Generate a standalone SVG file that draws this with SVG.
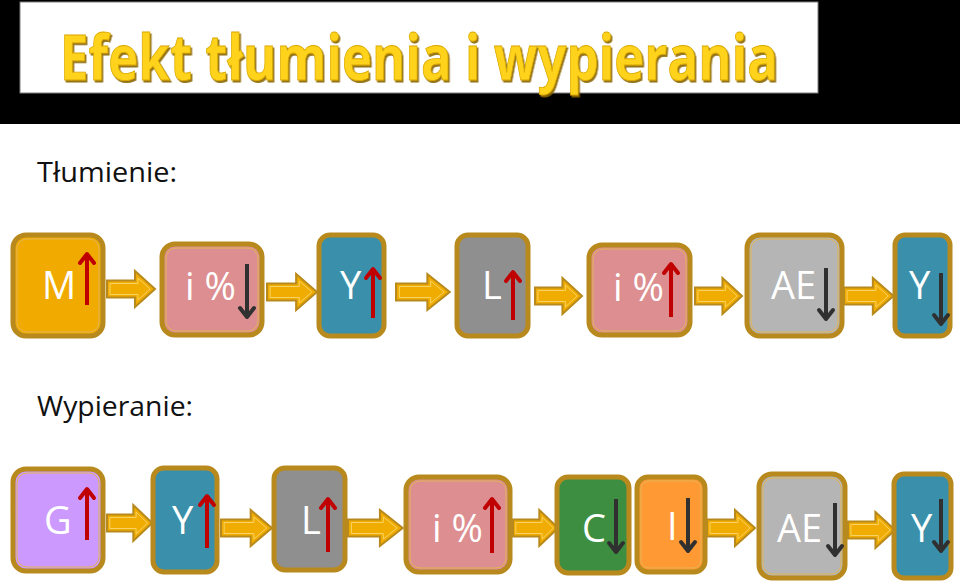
<svg xmlns="http://www.w3.org/2000/svg" xmlns:xlink="http://www.w3.org/1999/xlink" width="960" height="584" viewBox="0 0 960 584">
<style>
.box{stroke:#B8891C;stroke-width:5}
.inner{fill:none;stroke:#E2B555;stroke-width:1}
.lbl{font-family:"Open Sans","Noto Sans",sans-serif;font-size:38px;fill:#FFFFFF}
.sec{font-family:"Open Sans","Noto Sans",sans-serif;font-size:27px;fill:#111111}
.up{stroke:#C00000;stroke-width:4;fill:none;marker-end:url(#hr)}
.dn{stroke:#303030;stroke-width:4;fill:none;marker-end:url(#hb)}
.blk{fill:#F0AC00;stroke:#B8891C;stroke-width:2;vector-effect:non-scaling-stroke}
.blki{fill:none;stroke:#F8D262;stroke-width:1;vector-effect:non-scaling-stroke}
</style>
<defs>
<filter id="tsh" x="-5%" y="-20%" width="110%" height="150%">
<feDropShadow dx="1.5" dy="2" stdDeviation="0.6" flood-color="#8A6500" flood-opacity="0.9"/>
</filter>
<marker id="hr" markerUnits="userSpaceOnUse" markerWidth="24" markerHeight="24" viewBox="-12 -12 24 24" refX="0" refY="0" orient="auto">
<path d="M-9,-7 L0,0 L-9,7" fill="none" stroke="#C00000" stroke-width="4" stroke-linecap="round" stroke-linejoin="round"/>
</marker>
<marker id="hb" markerUnits="userSpaceOnUse" markerWidth="24" markerHeight="24" viewBox="-12 -12 24 24" refX="0" refY="0" orient="auto">
<path d="M-9,-7 L0,0 L-9,7" fill="none" stroke="#303030" stroke-width="4" stroke-linecap="round" stroke-linejoin="round"/>
</marker>
<g id="blockarrow">
<path class="blk" d="M0,-8.5 L28,-8.5 L28,-18 L48,0 L28,18 L28,8.5 L0,8.5 Z"/>
<path class="blki" d="M3,-5.5 L31,-5.5 L31,-11 L43,0 L31,11 L31,5.5 L3,5.5 Z"/>
</g>
</defs>

<rect x="0" y="0" width="960" height="124" fill="#000000"/>
<rect x="20" y="2" width="798" height="91" fill="#FFFFFF" stroke="#7F7F7F" stroke-width="1"/>
<text x="60" y="80" font-family="'Open Sans','Noto Sans',sans-serif" font-weight="bold" font-size="62" fill="#FFD21A" stroke="#D9A800" stroke-width="0.8" textLength="718" lengthAdjust="spacingAndGlyphs" filter="url(#tsh)">Efekt tłumienia i wypierania</text>

<text class="sec" x="37" y="182" textLength="140" lengthAdjust="spacingAndGlyphs">Tłumienie:</text>
<text class="sec" x="37" y="416" textLength="156" lengthAdjust="spacingAndGlyphs">Wypieranie:</text>

<g id="connectors">
<use xlink:href="#blockarrow" transform="translate(107,289)"/>
<use xlink:href="#blockarrow" transform="translate(267,292) scale(1.04,1)"/>
<use xlink:href="#blockarrow" transform="translate(396,292) scale(1.12,1)"/>
<use xlink:href="#blockarrow" transform="translate(535,296) scale(0.98,1)"/>
<use xlink:href="#blockarrow" transform="translate(695,296) scale(0.98,1)"/>
<use xlink:href="#blockarrow" transform="translate(844,296) scale(1.03,1)"/>
<use xlink:href="#blockarrow" transform="translate(107,523) scale(0.94,1)"/>
<use xlink:href="#blockarrow" transform="translate(221,528) scale(1.06,1)"/>
<use xlink:href="#blockarrow" transform="translate(348,528) scale(1.14,1)"/>
<use xlink:href="#blockarrow" transform="translate(513,528) scale(0.94,1)"/>
<use xlink:href="#blockarrow" transform="translate(707,528)"/>
<use xlink:href="#blockarrow" transform="translate(848,530) scale(0.98,1)"/>
</g>

<g id="n-M">
<rect class="box" x="13" y="235" width="90" height="101" rx="13" fill="#F0AA00"/>
<rect class="inner" x="17" y="239" width="82" height="93" rx="10"/>
<text class="lbl" x="42" y="299">M</text>
<line class="up" x1="87" y1="305" x2="87" y2="254"/>
</g>
<g id="n-i1">
<rect class="box" x="162" y="244" width="100" height="91" rx="13" fill="#DC8E90"/>
<rect class="inner" x="166" y="248" width="92" height="83" rx="10"/>
<text class="lbl" x="185" y="300">i %</text>
<line class="dn" x1="247" y1="264" x2="247" y2="317"/>
</g>
<g id="n-Y1">
<rect class="box" x="319" y="235" width="65" height="101" rx="11" fill="#3A90AA"/>
<text class="lbl" x="340" y="299">Y</text>
<line class="up" x1="373" y1="318" x2="373" y2="269"/>
</g>
<g id="n-L1">
<rect class="box" x="457" y="235" width="71" height="101" rx="11" fill="#8F8F8F"/>
<text class="lbl" x="482" y="299">L</text>
<line class="up" x1="513" y1="320" x2="513" y2="272"/>
</g>
<g id="n-i2">
<rect class="box" x="589" y="245" width="101" height="90" rx="13" fill="#DC8E90"/>
<rect class="inner" x="593" y="249" width="93" height="82" rx="10"/>
<text class="lbl" x="613" y="301">i %</text>
<line class="up" x1="671" y1="317" x2="671" y2="264"/>
</g>
<g id="n-AE1">
<rect class="box" x="747" y="235" width="95" height="101" rx="13" fill="#B5B5B5"/>
<rect class="inner" x="751" y="239" width="87" height="93" rx="10"/>
<text class="lbl" x="771" y="299">AE</text>
<line class="dn" x1="826" y1="268" x2="826" y2="319"/>
</g>
<g id="n-Y2">
<rect class="box" x="895" y="235" width="55" height="101" rx="10" fill="#3A90AA"/>
<text class="lbl" x="909" y="299">Y</text>
<line class="dn" x1="941" y1="273" x2="941" y2="324"/>
</g>

<g id="n-G">
<rect class="box" x="13" y="469" width="90" height="102" rx="13" fill="#CC99FF"/>
<rect class="inner" x="17" y="473" width="82" height="94" rx="10"/>
<text class="lbl" x="44" y="534">G</text>
<line class="up" x1="87" y1="540" x2="87" y2="489"/>
</g>
<g id="n-Y3">
<rect class="box" x="153" y="468" width="64" height="104" rx="11" fill="#3A90AA"/>
<text class="lbl" x="172" y="534">Y</text>
<line class="up" x1="207" y1="548" x2="207" y2="496"/>
</g>
<g id="n-L2">
<rect class="box" x="274" y="468" width="71" height="102" rx="11" fill="#8F8F8F"/>
<text class="lbl" x="301" y="534">L</text>
<line class="up" x1="328" y1="552" x2="328" y2="499"/>
</g>
<g id="n-i3">
<rect class="box" x="406" y="477" width="104" height="95" rx="13" fill="#DC8E90"/>
<rect class="inner" x="410" y="481" width="96" height="87" rx="10"/>
<text class="lbl" x="432" y="542">i %</text>
<line class="up" x1="492" y1="553" x2="492" y2="499"/>
</g>
<g id="n-C">
<rect class="box" x="557" y="477" width="72" height="96" rx="11" fill="#3E8E41"/>
<text class="lbl" x="582" y="542">C</text>
<line class="dn" x1="616" y1="499" x2="616" y2="552"/>
</g>
<g id="n-I">
<rect class="box" x="637" y="477" width="68" height="95" rx="11" fill="#FF9933"/>
<rect class="inner" x="641" y="481" width="60" height="87" rx="8"/>
<text class="lbl" x="667" y="540">I</text>
<line class="dn" x1="688" y1="498" x2="688" y2="551"/>
</g>
<g id="n-AE2">
<rect class="box" x="759" y="474" width="86" height="104" rx="13" fill="#B5B5B5"/>
<rect class="inner" x="763" y="478" width="78" height="96" rx="10"/>
<text class="lbl" x="777" y="542">AE</text>
<line class="dn" x1="835" y1="503" x2="835" y2="555"/>
</g>
<g id="n-Y4">
<rect class="box" x="894" y="474" width="57" height="104" rx="10" fill="#3A90AA"/>
<text class="lbl" x="911" y="542">Y</text>
<line class="dn" x1="941" y1="499" x2="941" y2="551"/>
</g>
</svg>
